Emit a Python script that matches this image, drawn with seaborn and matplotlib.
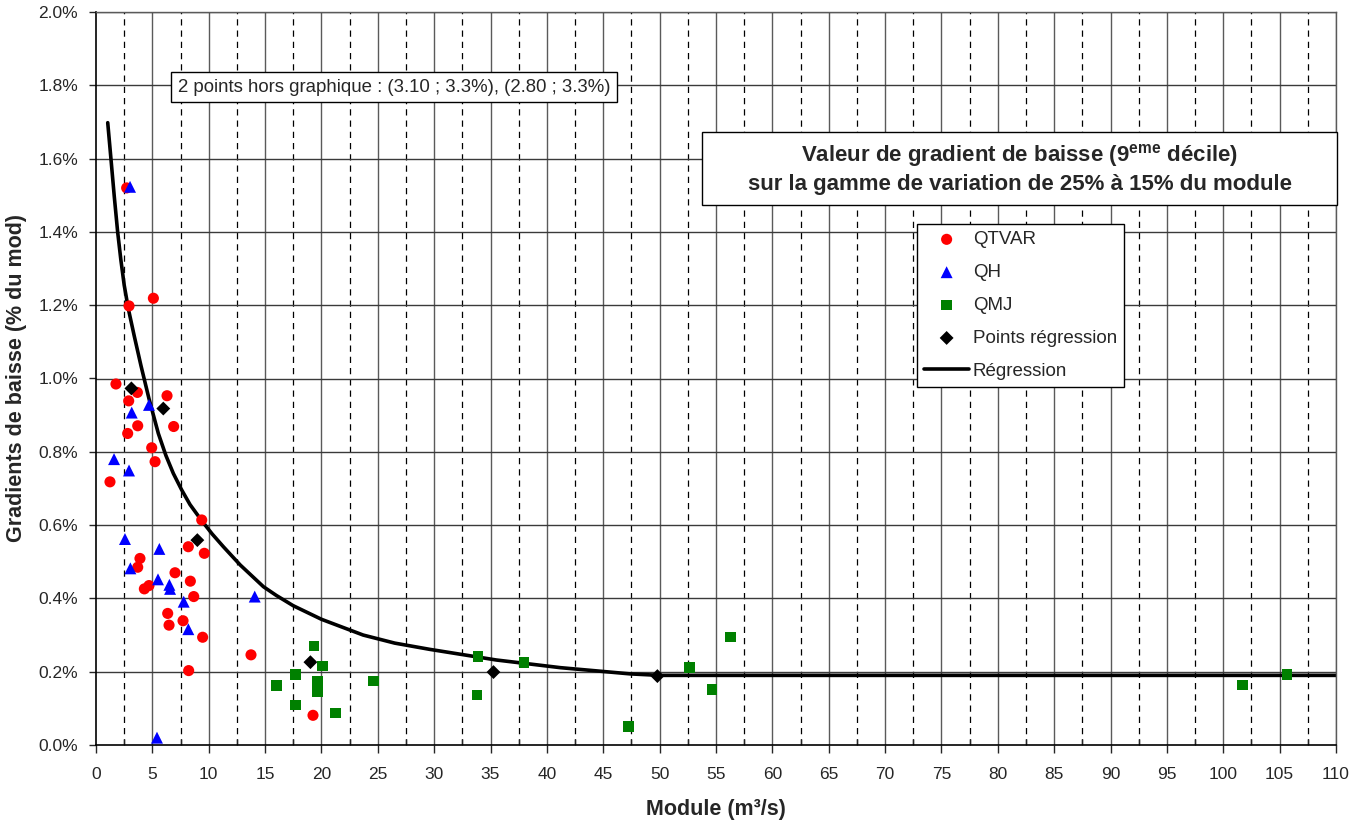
import matplotlib
matplotlib.use("Agg")
import matplotlib.pyplot as plt
import seaborn as sns
import numpy as np
from matplotlib.ticker import MultipleLocator, FuncFormatter
from matplotlib.patches import Rectangle

# ---------------- data (y in % of module) ----------------
qtvar_x = [2.72, 2.93, 5.09, 1.77, 3.67, 2.90, 6.30, 3.70, 6.89, 2.81, 4.94, 5.24, 1.24,
           9.38, 8.19, 9.61, 3.90, 3.70, 7.01, 8.37, 4.70, 4.29, 8.67, 6.36, 6.48, 7.72,
           9.46, 13.75, 8.22, 19.25]
qtvar_y = [1.520, 1.198, 1.219, 0.985, 0.962, 0.939, 0.953, 0.871, 0.869, 0.850, 0.811, 0.773, 0.718,
           0.614, 0.541, 0.523, 0.509, 0.485, 0.470, 0.447, 0.435, 0.426, 0.405, 0.359, 0.327, 0.339,
           0.294, 0.246, 0.203, 0.081]

qh_x = [3.02, 4.70, 3.17, 1.60, 2.93, 2.57, 5.62, 3.05, 5.50, 6.51, 6.57, 7.78, 14.08, 8.19, 5.41]
qh_y = [1.523, 0.928, 0.907, 0.780, 0.749, 0.562, 0.535, 0.482, 0.452, 0.437, 0.426, 0.391, 0.405, 0.316, 0.020]

qmj_x = [19.34, 20.10, 17.69, 16.03, 19.64, 19.64, 24.62, 17.69, 21.24, 33.87, 37.98, 33.78,
         47.23, 52.64, 54.63, 56.29, 101.7, 105.65]
qmj_y = [0.270, 0.216, 0.193, 0.163, 0.173, 0.145, 0.175, 0.109, 0.087, 0.241, 0.225, 0.136,
         0.050, 0.212, 0.152, 0.295, 0.164, 0.192]

regpts_x = [3.14, 5.97, 8.99, 19.02, 35.26, 49.8]
regpts_y = [0.973, 0.918, 0.559, 0.226, 0.199, 0.188]

curve_x = [1.04, 1.33, 1.62, 1.92, 2.20, 2.50, 2.87, 3.40, 3.99, 4.70, 5.53, 6.20, 6.86, 7.60,
           8.34, 9.38, 10.3, 11.3, 12.8, 14.85, 16.0, 17.5, 20.0, 23.7, 26.5, 29.6, 35.5,
           41.2, 47.4, 50.0, 110.0]
curve_y = [1.698, 1.598, 1.497, 1.400, 1.325, 1.255, 1.190, 1.115, 1.035, 0.945, 0.850, 0.790,
           0.741, 0.696, 0.656, 0.612, 0.576, 0.541, 0.491, 0.432, 0.408, 0.380, 0.343, 0.300,
           0.278, 0.261, 0.232, 0.211, 0.194, 0.190, 0.190]

x_label = "Module (m³/s)"
y_label = "Gradients de baisse (% du mod)"
note_text = "2 points hors graphique : (3.10 ; 3.3%), (2.80 ; 3.3%)"
title_line1 = r"Valeur de gradient de baisse (9$^{\mathbf{eme}}$ décile)"
title_line2 = "sur la gamme de variation de 25% à 15% du module"

# ---------------- style ----------------
sns.set_style("white")
plt.rcParams["font.family"] = ["Liberation Sans", "DejaVu Sans"]
plt.rcParams["mathtext.fontset"] = "custom"
plt.rcParams["mathtext.rm"] = "Liberation Sans"
plt.rcParams["mathtext.bf"] = "Liberation Sans:bold"

fig = plt.figure(figsize=(13.5, 8.22), dpi=100)
ax = fig.add_axes([96/1350, 1-745/822, (1336-96)/1350, (745-12)/822])

ax.set_xlim(0, 110)
ax.set_ylim(0, 2.0)

# grid lines
for xv in np.arange(5, 110.1, 5):
    ax.axvline(xv, color="#5a5a5a", lw=1.0, zorder=0)
for xv in np.arange(2.5, 110, 5):
    ax.axvline(xv, color="black", lw=0.9, ls=(0, (5, 4)), zorder=0)
for yv in np.arange(0.2, 2.01, 0.2):
    ax.axhline(yv, color="#3a3a3a", lw=1.0, zorder=0)

# regression curve
sns.lineplot(x=curve_x, y=curve_y, sort=False, ax=ax, color="black", lw=2.6,
             label="Régression", zorder=2, solid_joinstyle="round")

ms = 64
sns.scatterplot(x=qtvar_x, y=qtvar_y, ax=ax, color="#ff0000", marker="o", s=ms,
                edgecolor="none", label="QTVAR", zorder=3)
sns.scatterplot(x=qh_x, y=qh_y, ax=ax, color="#0000ff", marker="^", s=ms+10,
                edgecolor="none", label="QH", zorder=3)
sns.scatterplot(x=qmj_x, y=qmj_y, ax=ax, color="#008000", marker="s", s=ms-6,
                edgecolor="none", label="QMJ", zorder=3)
sns.scatterplot(x=regpts_x, y=regpts_y, ax=ax, color="black", marker="D", s=ms-14,
                edgecolor="none", label="Points régression", zorder=4)

# axes / ticks
ax.xaxis.set_major_locator(MultipleLocator(5))
ax.xaxis.set_minor_locator(MultipleLocator(2.5))
ax.yaxis.set_major_locator(MultipleLocator(0.2))
ax.yaxis.set_major_formatter(FuncFormatter(lambda v, p: f"{v:.1f}%"))
ax.tick_params(axis="x", which="major", direction="out", length=6, width=1, pad=10,
               labelsize=12.5, bottom=True)
ax.tick_params(axis="x", which="minor", direction="in", length=4, width=1, bottom=True)
ax.tick_params(axis="y", which="major", direction="out", length=5, width=1, pad=8,
               labelsize=12.5, left=True)
for s in ["left", "bottom"]:
    ax.spines[s].set_color("black")
    ax.spines[s].set_linewidth(1.2)
for s in ["top", "right"]:
    ax.spines[s].set_color("#5a5a5a")
    ax.spines[s].set_linewidth(1.0)

ax.set_xlabel(x_label, fontsize=15.5, fontweight="bold", labelpad=12)
ax.set_ylabel(y_label, fontsize=15.5, fontweight="bold", labelpad=8)

# legend
handles, labels = ax.get_legend_handles_labels()
order = ["QTVAR", "QH", "QMJ", "Points régression", "Régression"]
hd = dict(zip(labels, handles))
leg = ax.legend([hd[k] for k in order], order, loc="upper left",
                bbox_to_anchor=((917-96)/1240, (745-224)/733), borderaxespad=0,
                frameon=True, fancybox=False, edgecolor="black", framealpha=1,
                fontsize=13.5, labelspacing=0.84, handlelength=2.4, handletextpad=0.2,
                borderpad=0.38, markerscale=1.0)
leg.get_frame().set_linewidth(1.0)
leg.set_zorder(10)

# note box
ax.text(7.25, 1.795, note_text, fontsize=13.4, ha="left", va="center", zorder=10,
        bbox=dict(boxstyle="square,pad=0.35", fc="white", ec="black", lw=1.0))

# title box (frame drawn as a rectangle in axes coordinates)
bx0, bx1 = (702-96)/1240, (1337-96)/1240
by0, by1 = (745-205)/733, (745-132)/733
ax.add_patch(Rectangle((bx0, by0), bx1-bx0, by1-by0, transform=ax.transAxes,
                       fc="white", ec="black", lw=1.0, zorder=9, clip_on=False))
ax.text((bx0+bx1)/2, (by0+by1)/2, title_line1 + "\n" + title_line2,
        transform=ax.transAxes, fontsize=16, fontweight="bold", ha="center", va="center",
        linespacing=1.3, zorder=10)

fig.savefig("out.png", dpi=100)
